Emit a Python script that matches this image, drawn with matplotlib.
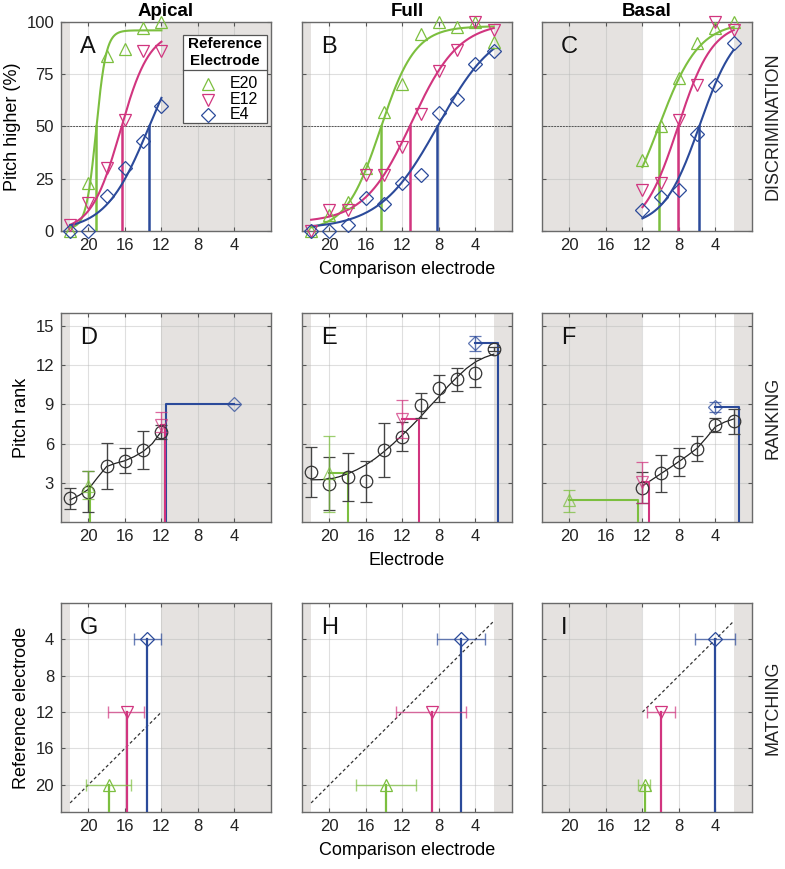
import numpy as np
import matplotlib
matplotlib.use("Agg")
import matplotlib.pyplot as plt
from matplotlib.patches import Rectangle

plt.rcParams['font.family'] = ['Liberation Sans', 'DejaVu Sans']

GREEN = '#7cbf3f'
PINK = '#d1357f'
BLUE = '#2b4a9a'
SHADE = '#e5e2e0'

refs = ['E20', 'E12', 'E4']
ref_colors = [GREEN, PINK, BLUE]
ref_markers = ['^', 'v', 'D']
conditions = ['Apical', 'Full', 'Basal']

# white (tested) electrode range per condition
white_range = [(22, 12), (22, 2), (12, 2)]

# ---- discrimination: % pitch higher
disc_x = [[22, 20, 18, 16, 14, 12],
          [22, 20, 18, 16, 14, 12, 10, 8, 6, 4, 2],
          [12, 10, 8, 6, 4, 2]]
disc_E20 = [[0, 23, 83.6, 87, 97, 100],
            [0, 7.5, 14, 30, 57, 70.5, 94.4, 100, 97.6, 100, 90.4],
            [33.8, 50, 73, 90, 97, 100]]
disc_E12 = [[3, 13.5, 30, 53, 86, 86],
            [0, 10, 10, 26.6, 26.6, 40, 56, 76.5, 86.8, 100, 96],
            [19.8, 23, 53, 70, 100, 96.3]]
disc_E4 = [[0, 0, 16.6, 30, 43, 60],
           [0, 0, 2.7, 16, 13, 23, 26.6, 56.5, 63, 80, 86],
           [10, 16.3, 19.8, 46.6, 69.7, 90]]
# fitted logistic parameters (lower, upper, midpoint electrode, slope)
fit_E20 = [(1, 96, 19.15, 0.55), (0, 98, 14.4, 1.9), (0, 100, 10.2, 2.2)]
fit_E12 = [(0, 96, 16.5, 1.6), (4, 100, 11.0, 2.6), (0, 100, 8.1, 1.9)]
fit_E4 = [(0, 100, 13.35, 2.4), (1, 100, 8.1, 3.2), (2, 100, 5.7, 2.0)]

# ---- ranking
rank_x = [[22, 20, 18, 16, 14, 12],
          [22, 20, 18, 16, 14, 12, 10, 8, 6, 4, 2],
          [12, 10, 8, 6, 4, 2]]
rank_mean = [[1.8, 2.33, 4.3, 4.7, 5.5, 6.87],
             [3.82, 2.93, 3.43, 3.13, 5.52, 6.54, 8.93, 10.23, 10.92, 11.42, 13.23],
             [2.6, 3.74, 4.6, 5.6, 7.43, 7.74]]
rank_lo = [[1.0, 0.8, 2.52, 3.74, 4.05, 6.34],
           [1.88, 0.89, 1.58, 1.53, 3.43, 5.44, 7.96, 9.19, 10.05, 10.36, 13.1],
           [1.45, 2.29, 3.54, 4.66, 6.87, 6.74]]
rank_hi = [[2.6, 3.9, 6.08, 5.65, 6.95, 7.43],
           [5.73, 4.94, 5.27, 4.7, 7.56, 7.68, 9.9, 11.25, 11.8, 12.52, 13.36],
           [3.82, 5.14, 5.7, 6.59, 7.94, 8.63]]
rank_fit_x = [list(range(22, 11, -1)), list(range(22, 1, -1)), list(range(12, 1, -1))]
rank_fit_y = [[1.7, 2.05, 2.5, 3.4, 4.25, 4.5, 4.69, 5.0, 5.4, 6.0, 6.95],
              [3.23, 3.24, 3.28, 3.45, 3.69, 4.0, 4.38, 4.85, 5.4, 6.0, 6.67,
               7.35, 8.07, 8.85, 9.6, 10.4, 11.1, 11.75, 12.26, 12.6, 12.85],
              [2.77, 3.22, 3.69, 4.15, 4.63, 5.12, 5.65, 6.45, 7.3, 7.65, 7.89]]
ref_elec = [20, 12, 4]
ref_rank = [[2.77, 7.43, 9.0], [3.75, 7.86, 13.7], [1.7, 3.05, 8.83]]
ref_rank_lo = [[1.75, 6.9, 9.0], [0.74, 6.41, 13.08], [0.76, 1.45, 8.45]]
ref_rank_hi = [[3.87, 8.4, 9.0], [6.6, 9.34, 14.27], [2.47, 4.58, 9.21]]
rank_cross = [[19.8, 11.6, 11.5], [18.0, 10.2, 1.5], [12.5, 11.3, 1.45]]

# ---- matching
match_ref = [20, 12, 4]
match_x = [[17.75, 15.78, 13.53], [13.8, 8.8, 5.55], [11.76, 9.96, 4.0]]
match_lo = [[20.2, 17.7, 14.98], [17.04, 12.6, 8.1], [12.34, 11.5, 6.15]]
match_hi = [[15.2, 13.75, 12.07], [10.47, 4.93, 2.92], [11.03, 8.46, 1.8]]

letters = 'ABCDEFGHI'
row_names = ['DISCRIMINATION', 'RANKING', 'MATCHING']

fig = plt.figure(figsize=(7.85, 8.69), dpi=100)
W, H = 785, 869
lefts = [61, 302, 542]
tops = [22, 313, 603]
aw, ah = 210, 209


def msize(k):
    return 9 if k < 2 else 7.5


axes = [[None] * 3 for _ in range(3)]
for r in range(3):
    for c in range(3):
        ax = fig.add_axes([lefts[c] / W, 1 - (tops[r] + ah) / H, aw / W, ah / H])
        axes[r][c] = ax
        ax.set_xlim(23, 0)
        lo_w, hi_w = white_range[c]
        if lo_w < 23:
            ax.axvspan(23, lo_w, color=SHADE, lw=0, zorder=0.5)
        ax.axvspan(hi_w, 0, color=SHADE, lw=0, zorder=0.5)
        ax.set_xticks([20, 16, 12, 8, 4])
        ax.grid(True, color='#b8b8b8', alpha=0.45, lw=0.8)
        ax.tick_params(direction='in', top=True, right=True, length=3, pad=5,
                       labelsize=12, color='#555555', labelcolor='#222222')
        for sp in ax.spines.values():
            sp.set_color('#6a6a6a')
            sp.set_linewidth(1.0)
        ax.text(0.09, 0.88, letters[r * 3 + c], transform=ax.transAxes,
                fontsize=17, ha='left', va='center', color='#111111')
        if c > 0:
            ax.set_yticklabels([])

# ---- row 1
ys_all = [disc_E20, disc_E12, disc_E4]
fits_all = [fit_E20, fit_E12, fit_E4]
for c in range(3):
    ax = axes[0][c]
    ax.set_ylim(0, 100)
    ax.set_yticks([0, 25, 50, 75, 100])
    ax.axhline(50, color='#555555', lw=0.7, ls=(0, (2, 1)), zorder=1.6)
    x0, x1 = white_range[c]
    xf = np.linspace(x0, x1, 300)
    for k in range(3):
        lo, hi, m, s = fits_all[k][c]
        yf = lo + (hi - lo) / (1 + np.exp((xf - m) / s))
        ax.plot(xf, yf, color=ref_colors[k], lw=1.5, zorder=3)
        f = (50 - lo) / (hi - lo)
        xc = m + s * np.log(1 / f - 1)
        ax.plot([xc, xc], [0, 50], color=ref_colors[k], lw=1.8, zorder=3)
        ax.plot(disc_x[c], ys_all[k][c], ls='none', marker=ref_markers[k],
                ms=msize(k), mfc='none', mec=ref_colors[k],
                mew=0.9, zorder=4, clip_on=False)
    ax.set_title(conditions[c], fontsize=13.5, fontweight='bold', pad=4)
axes[0][0].set_ylabel('Pitch higher (%)', fontsize=13)
axes[0][1].set_xlabel('Comparison electrode', fontsize=13, labelpad=6)

# legend box (drawn by hand to get the separator under the title)
axA = axes[0][0]
axA.add_patch(Rectangle((0.581, 0.517), 0.399, 0.421, transform=axA.transAxes,
                        facecolor='white', edgecolor='#555555', lw=0.9, zorder=10))
axA.plot([0.581, 0.98], [0.768, 0.768], transform=axA.transAxes,
         color='#555555', lw=0.9, zorder=11)
axA.text(0.78, 0.855, 'Reference\nElectrode', transform=axA.transAxes,
         ha='center', va='center', fontsize=11, fontweight='bold',
         linespacing=1.25, zorder=11)
for k, yy in enumerate([0.705, 0.627, 0.557]):
    axA.plot([0.70], [yy], transform=axA.transAxes, ls='none',
             marker=ref_markers[k], ms=msize(k), mfc='none',
             mec=ref_colors[k], mew=0.9, zorder=11)
    axA.text(0.805, yy, refs[k], transform=axA.transAxes, ha='left',
             va='center', fontsize=11.5, zorder=11)

# ---- row 2
for c in range(3):
    ax = axes[1][c]
    ax.set_ylim(0, 16)
    ax.set_yticks([3, 6, 9, 12, 15])
    ax.plot(rank_fit_x[c], rank_fit_y[c], color='#222222', lw=0.9, zorder=3)
    m = np.array(rank_mean[c])
    ax.errorbar(rank_x[c], m, yerr=[m - np.array(rank_lo[c]), np.array(rank_hi[c]) - m],
                fmt='o', ms=9, mfc='none', mec='#333333', mew=0.9,
                ecolor='#444444', elinewidth=1.0, capsize=4, zorder=4)
    for k in range(3):
        col = ref_colors[k]
        xr, yr, xc = ref_elec[k], ref_rank[c][k], rank_cross[c][k]
        ax.plot([xr, xc, xc], [yr, yr, 0], color=col, lw=1.5, zorder=3.5 + 0.1 * (k == 1))
        ax.errorbar([xr], [yr], yerr=[[yr - ref_rank_lo[c][k]], [ref_rank_hi[c][k] - yr]],
                    fmt=ref_markers[k], ms=msize(k), mfc='none',
                    mec=col, mew=0.9, ecolor=col, elinewidth=1.0, capsize=4,
                    alpha=0.75, zorder=5)
axes[1][0].set_ylabel('Pitch rank', fontsize=13)
axes[1][1].set_xlabel('Electrode', fontsize=13, labelpad=6)

# ---- row 3
for c in range(3):
    ax = axes[2][c]
    ax.set_ylim(23, 0)
    ax.set_yticks([4, 8, 12, 16, 20])
    d0, d1 = white_range[c]
    ax.plot([d0, d1], [d0, d1], color='#333333', lw=0.9, ls=(0, (2.5, 2)), zorder=2)
    for k in range(3):
        col = ref_colors[k]
        xm, yr = match_x[c][k], match_ref[k]
        ax.plot([xm, xm], [yr, 23], color=col, lw=1.6, zorder=3)
        ax.errorbar([xm], [yr], xerr=[[match_lo[c][k] - xm], [xm - match_hi[c][k]]],
                    fmt='none', ecolor=col, elinewidth=1.0, capsize=4, alpha=0.7, zorder=4)
        ax.plot([xm], [yr], ls='none', marker=ref_markers[k], ms=msize(k),
                mfc='none', mec=col, mew=0.9, zorder=5)
axes[2][0].set_ylabel('Reference electrode', fontsize=13)
axes[2][1].set_xlabel('Comparison electrode', fontsize=13, labelpad=6)

# row names
for r in range(3):
    yc = 1 - (tops[r] + ah / 2) / H
    fig.text(0.985, yc, row_names[r], rotation=90, ha='center', va='center',
             fontsize=13, color='#222222')

fig.savefig('out.png', dpi=100)
